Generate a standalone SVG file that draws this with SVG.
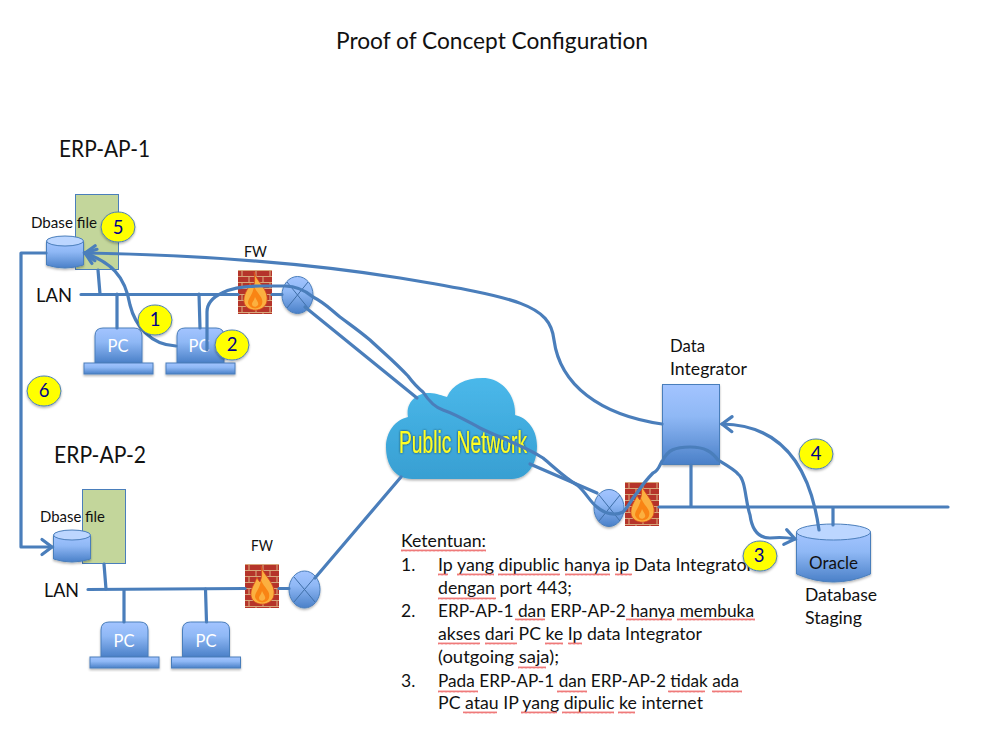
<svg xmlns="http://www.w3.org/2000/svg" width="989" height="742" viewBox="0 0 989 742">
<style>
text{font-family:"Lato","Open Sans","Liberation Sans",sans-serif;fill:#111}
.t21{font-size:23px}.t18{font-size:20px}.t16{font-size:17.500px}.t14{font-size:15px}
.pc{font-size:16.500px;fill:#fff;text-anchor:middle}
.num{font-size:18.500px;fill:#00008b;text-anchor:middle}
.blue{fill:url(#g);stroke:#4a7ebb;stroke-width:1;filter:url(#s)}
.green{fill:#c3d69b;stroke:#4a7ebb;stroke-width:1}
.top{fill:#bcd6ff;stroke:#4a7ebb;stroke-width:1}
.badge{fill:#ff0;stroke:#4a7ebb;stroke-width:1;filter:url(#s)}
.c{fill:none;stroke:#4a7ebb;stroke-width:3.200;stroke-linecap:round;stroke-linejoin:round}
.a{marker-end:url(#arr)}
.x{fill:none;stroke:#3f6fa8;stroke-width:1}
.sq{fill:url(#wave)}
</style>
<defs>
<linearGradient id="g" x1="0" y1="0" x2="0" y2="1"><stop offset="0" stop-color="#a3c4ff"/><stop offset="0.4" stop-color="#8fb8f5"/><stop offset="1" stop-color="#4a80c8"/></linearGradient>
<linearGradient id="cg" x1="0" y1="0" x2="0" y2="1"><stop offset="0" stop-color="#4ab8ea"/><stop offset="1" stop-color="#389fd2"/></linearGradient>
<linearGradient id="fl" x1="0" y1="0" x2="0" y2="1"><stop offset="0" stop-color="#f9a030"/><stop offset="1" stop-color="#f57c10"/></linearGradient>
<filter id="s" x="-20%" y="-20%" width="140%" height="150%"><feDropShadow dx="0" dy="1.500" stdDeviation="1" flood-color="#000" flood-opacity="0.3"/></filter>
<filter id="glow" x="-10%" y="-20%" width="120%" height="140%"><feDropShadow dx="0" dy="0" stdDeviation="1.200" flood-color="#123" flood-opacity="0.9"/></filter>
<marker id="arr" markerUnits="userSpaceOnUse" markerWidth="20" markerHeight="20" refX="14" refY="10" orient="auto"><path d="M4,2.500 L14,10 L4,17.500" fill="none" stroke="#4a7ebb" stroke-width="3.200" stroke-linecap="round"/></marker>
<pattern id="wave" width="4" height="3" patternUnits="userSpaceOnUse"><path d="M0,2.500 L1,0.500 L2,2.500 L3,0.500 L4,2.500" fill="none" stroke="#e84040" stroke-width="0.700"/></pattern>
<pattern id="brick" width="14" height="12" patternUnits="userSpaceOnUse"><rect width="14" height="12" fill="#b5342a"/><path d="M0,0.500H14M0,6.500H14M4,0V6M11,6V12" stroke="#d8a67a" stroke-width="1.100" fill="none"/></pattern>
<g id="fire">
<rect width="34" height="44" fill="url(#brick)"/>
<path d="M16,2 C19,12 31,20 29,31 C27,43 8,43 6,32 C5,24 10,20 12,13 C13,16 14,17 15,18 C17,13 17,8 16,2Z" fill="#fbb040" stroke="#d8461a" stroke-width="0.800"/>
<path d="M16,16 C19,24 26,27 24,34 C22,40 12,40 10,33 C10,28 15,25 16,16Z" fill="#f98414"/>
<path d="M17,27 C19,31 21,33 20,35 C18,38 14,37 14,34 C14,32 16,31 17,27Z" fill="#fbb040"/>
</g>
<g id="pcShape">
<path d="M0,35 V8 Q0,0 8,0 H39 Q47,0 47,8 V35 Z" class="blue"/>
<rect x="-11" y="35" width="69" height="11" class="blue"/>
</g>
</defs>
<rect width="989" height="742" fill="#fff"/>

<g id="title"><text class="t21" x="336" y="49" textLength="312" lengthAdjust="spacingAndGlyphs">Proof of Concept Configuration</text></g>

<g id="erp-ap-1">
<text class="t21" x="59" y="157" textLength="91" lengthAdjust="spacingAndGlyphs">ERP-AP-1</text>
<rect class="green" x="75.500" y="194.500" width="43" height="75"/>
<text class="t14" x="31" y="228" textLength="66" lengthAdjust="spacingAndGlyphs">Dbase file</text>
<path class="blue" d="M46.500,241 V265 Q65,271 83.500,265 V241 Z"/><ellipse class="top" cx="65" cy="241" rx="18.500" ry="5"/>
<text class="t18" x="36" y="302" textLength="36" lengthAdjust="spacingAndGlyphs">LAN</text>
</g>
<g id="pc-1a"><use href="#pcShape" x="95" y="328"/><text class="pc" x="118" y="352">PC</text></g>
<g id="pc-1b"><use href="#pcShape" x="177" y="328"/><text class="pc" x="199" y="352">PC</text></g>
<g id="fw-1"><text class="t14" x="244" y="257" textLength="23" lengthAdjust="spacingAndGlyphs">FW</text><use href="#fire" x="238" y="270"/></g>
<g id="router-1"><ellipse class="blue" cx="297.500" cy="295" rx="15.500" ry="18.500"/><path class="x" d="M287,282 L308,308 M308,282 L287,308"/></g>

<g id="erp-ap-2">
<text class="t21" x="54" y="463" textLength="92" lengthAdjust="spacingAndGlyphs">ERP-AP-2</text>
<rect class="green" x="82.500" y="489.500" width="43" height="74"/>
<text class="t14" x="40" y="522" textLength="65" lengthAdjust="spacingAndGlyphs">Dbase file</text>
<path class="blue" d="M53.500,535 V559 Q72,565 90.500,559 V535 Z"/><ellipse class="top" cx="72" cy="535" rx="18.500" ry="5"/>
<text class="t18" x="44" y="597" textLength="35" lengthAdjust="spacingAndGlyphs">LAN</text>
</g>
<g id="pc-2a"><use href="#pcShape" x="101" y="622"/><text class="pc" x="124" y="647">PC</text></g>
<g id="pc-2b"><use href="#pcShape" x="182.500" y="622"/><text class="pc" x="206" y="647">PC</text></g>
<g id="fw-2"><text class="t14" x="251" y="551" textLength="22" lengthAdjust="spacingAndGlyphs">FW</text><use href="#fire" x="245" y="564"/></g>
<g id="router-2"><ellipse class="blue" cx="304.500" cy="589.500" rx="15.500" ry="18.500"/><path class="x" d="M294,577 L315,602 M315,577 L294,602"/></g>

<g id="cloud">
<path d="M412,479 C395,479 386,465 386,447 C386,432 395,420 408,417 C405,400 420,392 430,393 C436,393 443,396 447,397 C452,385 465,378 483,378 C500,378 516,393 515,415 C528,418 537,430 537,446 C537,465 527,479 512,479 Z" fill="url(#cg)" filter="url(#s)"/>
<text x="399" y="453" style="font-size:31px;fill:#ffff20;font-family:'Liberation Sans',sans-serif" filter="url(#glow)" textLength="128" lengthAdjust="spacingAndGlyphs">Public Network</text>
</g>

<g id="router-3"><ellipse class="blue" cx="609" cy="508" rx="15" ry="18.500"/><path class="x" d="M599,495 L620,521 M620,495 L599,521"/></g>
<g id="fw-3"><use href="#fire" x="625" y="482"/></g>
<g id="data-integrator">
<text class="t16" x="670" y="352" textLength="35" lengthAdjust="spacingAndGlyphs">Data</text>
<text class="t16" x="670" y="375" textLength="77" lengthAdjust="spacingAndGlyphs">Integrator</text>
<rect class="blue" x="662.500" y="384.500" width="57" height="80"/>
</g>
<g id="oracle">
<path class="blue" d="M796.500,532 V574 Q833.500,590 870.500,574 V532 Z"/><ellipse class="top" cx="833.500" cy="532" rx="37" ry="8"/>
<text class="t16" x="809" y="569" textLength="49" lengthAdjust="spacingAndGlyphs">Oracle</text>
<text class="t16" x="805" y="601" textLength="72" lengthAdjust="spacingAndGlyphs">Database</text>
<text class="t16" x="805" y="624" textLength="57" lengthAdjust="spacingAndGlyphs">Staging</text>
</g>

<g id="connectors">
<path class="c" d="M81,294.500 H238 M272,294.500 H282"/>
<path class="c" d="M98,270 L100,294 M117,294 V328 M199,294 L200,328"/>
<path class="c" d="M88,589.500 L245,588.500 M279,588.500 H289"/>
<path class="c" d="M104,564 L106,589 M124,590 V622 M205.500,589 L206.500,622"/>
<path class="c" d="M659,507 H948 M691,465 V507 M833,507 V525"/>
<path class="c a" d="M46,253 H21 V547 H52"/>
<path class="c a" d="M662,424 C600,415 560,385 554,340 C550,305 520,298 400,278 C300,262 200,255 85,253"/>
<path class="c a" d="M176,346 C150,345 135,325 130,305 C125,275 110,262 85,253"/>
<path class="c" d="M305,307 L417,398"/>
<path class="c" d="M401,477 L315,578"/>
<path class="c" d="M530,464 L597,493"/>
<path class="c a" d="M207,350 V312 Q207,300 222,293 Q235,286 260,286 H285 Q300,286 313,297 C325,303 330,309 340,317 C352,326 358,330 370,340 C385,354 395,362 408,376 C414,384 418,388 423,392 C430,403 437,408 443,410 C455,414 465,420 480,428 C500,438 525,446 543,458 C555,468 565,478 577,485 C585,491 590,502 597,507 C605,514 615,516 623,512 C630,505 632,498 637,493 C643,484 648,478 653,473 C660,470 660,462 663,460 C668,450 675,447 690,447 C705,447 712,452 718,460 C728,466 735,470 738,474 C746,480 745,500 750,515 C752,530 758,538 770,538 C780,537 785,537 795,539"/>
<path class="c a" d="M819,530 C812,480 790,425 722,424"/>
</g>

<g id="notes">
<text class="t16" x="401" y="547" textLength="85" lengthAdjust="spacingAndGlyphs">Ketentuan:</text>
<text class="t16" x="401" y="571">1.</text>
<text class="t16" x="438" y="571" textLength="315" lengthAdjust="spacingAndGlyphs">Ip yang dipublic hanya ip Data Integrator</text>
<text class="t16" x="438" y="594" textLength="134" lengthAdjust="spacingAndGlyphs">dengan port 443;</text>
<text class="t16" x="401" y="617">2.</text>
<text class="t16" x="438" y="617" textLength="316" lengthAdjust="spacingAndGlyphs">ERP-AP-1 dan ERP-AP-2 hanya membuka</text>
<text class="t16" x="438" y="640" textLength="264" lengthAdjust="spacingAndGlyphs">akses dari PC ke Ip data Integrator</text>
<text class="t16" x="438" y="663" textLength="121" lengthAdjust="spacingAndGlyphs">(outgoing saja);</text>
<text class="t16" x="401" y="687">3.</text>
<text class="t16" x="438" y="687" textLength="301" lengthAdjust="spacingAndGlyphs">Pada ERP-AP-1 dan ERP-AP-2 tidak ada</text>
<text class="t16" x="438" y="709" textLength="265" lengthAdjust="spacingAndGlyphs">PC atau IP yang dipulic ke internet</text>
<rect class="sq" x="401" y="549" width="85" height="3"/>
<rect class="sq" x="438" y="573" width="10" height="3"/><rect class="sq" x="457" y="573" width="37" height="3"/><rect class="sq" x="498" y="573" width="62" height="3"/><rect class="sq" x="565" y="573" width="45" height="3"/><rect class="sq" x="615" y="573" width="17" height="3"/>
<rect class="sq" x="438" y="597" width="58" height="3"/>
<rect class="sq" x="515" y="618" width="30" height="3"/><rect class="sq" x="626" y="618" width="46" height="3"/><rect class="sq" x="677" y="618" width="78" height="3"/>
<rect class="sq" x="438" y="642" width="42" height="3"/><rect class="sq" x="485" y="642" width="32" height="3"/><rect class="sq" x="545" y="642" width="18" height="3"/><rect class="sq" x="568" y="642" width="14" height="3"/>
<rect class="sq" x="518" y="666" width="28" height="3"/>
<rect class="sq" x="438" y="690" width="40" height="3"/><rect class="sq" x="557" y="690" width="30" height="3"/><rect class="sq" x="668" y="690" width="37" height="3"/><rect class="sq" x="712" y="690" width="30" height="3"/>
<rect class="sq" x="463" y="711" width="34" height="3"/><rect class="sq" x="521" y="711" width="36" height="3"/><rect class="sq" x="562" y="711" width="52" height="3"/><rect class="sq" x="618" y="711" width="17" height="3"/>
</g>

<g id="badge-1"><ellipse class="badge" cx="155" cy="320" rx="17" ry="15"/><text class="num" x="155" y="326">1</text></g>
<g id="badge-2"><ellipse class="badge" cx="232" cy="345" rx="17" ry="15"/><text class="num" x="232" y="351">2</text></g>
<g id="badge-3"><ellipse class="badge" cx="760" cy="556" rx="17" ry="15"/><text class="num" x="759" y="562">3</text></g>
<g id="badge-4"><ellipse class="badge" cx="816" cy="454" rx="17" ry="15"/><text class="num" x="816" y="460">4</text></g>
<g id="badge-5"><ellipse class="badge" cx="118" cy="227" rx="17" ry="15"/><text class="num" x="118" y="234">5</text></g>
<g id="badge-6"><ellipse class="badge" cx="44" cy="391" rx="17" ry="15"/><text class="num" x="44" y="397">6</text></g>
</svg>
